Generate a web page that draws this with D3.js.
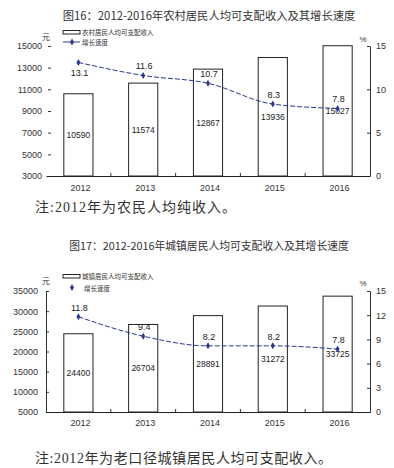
<!DOCTYPE html>
<html>
<head>
<meta charset="utf-8">
<script src="https://cdn.jsdelivr.net/npm/d3@7"></script>
<style>
  body { margin: 0; background: #fff; }
  svg { display: block; }
  text { font-family: "Liberation Sans", "Noto Sans CJK SC", sans-serif; }
  .cjk { font-family: "Noto Sans CJK SC", sans-serif; }
  .note { font-family: "Liberation Serif", "Noto Sans CJK SC", serif; }
</style>
</head>
<body>
<svg id="chart" width="394" height="468"></svg>
<script>
const years = ["2012", "2013", "2014", "2015", "2016"];

const ruralIncome = [10590, 11574, 12867, 13936, 15027];
const ruralGrowth = [13.1, 11.6, 10.7, 8.3, 7.8];
const ruralLeftTicks = [3000, 5000, 7000, 9000, 11000, 13000, 15000];
const ruralRightTicks = [0, 5, 10, 15];

const urbanIncome = [24400, 26704, 28891, 31272, 33725];
const urbanGrowth = [11.8, 9.4, 8.2, 8.2, 7.8];
const urbanLeftTicks = [5000, 10000, 15000, 20000, 25000, 30000, 35000];
const urbanRightTicks = [0, 3, 6, 9, 12, 15];

const lineColor = "#2c3a8e";

const svg = d3.select("#chart");
svg.append("rect").attr("width", 394).attr("height", 468).attr("fill", "#fff");

function drawPanel(p) {
  const g = svg.append("g");

  const x = d3.scaleBand().domain(years).range([46, 370]).padding(0);
  const yL = d3.scaleLinear().domain(p.leftDomain).range([p.bottom, p.top]);
  const yR = d3.scaleLinear().domain([0, 15]).range([p.bottom, p.top]);
  const barW = x.bandwidth() * 0.45;

  // title
  g.append("text")
    .attr("class", "cjk")
    .attr("x", 209).attr("y", p.titleY)
    .attr("text-anchor", "middle")
    .attr("dominant-baseline", "central")
    .attr("font-size", p.titleSize)
    .attr("fill", "#333")
    .text(p.title);

  // bars
  g.selectAll(".bar")
    .data(p.income)
    .enter()
    .append("rect")
    .attr("class", "bar")
    .attr("x", (d, i) => x(years[i]) + x.bandwidth() / 2 - barW / 2)
    .attr("y", d => yL(d))
    .attr("width", barW)
    .attr("height", d => p.bottom - yL(d))
    .attr("fill", "#fff")
    .attr("stroke", "#222")
    .attr("stroke-width", 1);

  // bar values
  g.selectAll(".bar-label")
    .data(p.income)
    .enter()
    .append("text")
    .attr("x", (d, i) => x(years[i]) + x.bandwidth() / 2)
    .attr("y", d => (yL(d) + p.bottom) / 2)
    .attr("text-anchor", "middle")
    .attr("dominant-baseline", "central")
    .attr("font-size", 8.5)
    .attr("fill", "#222")
    .text(d => d);

  // left axis
  const left = g.append("g")
    .attr("transform", `translate(${p.leftAxisX},0)`)
    .call(d3.axisLeft(yL).tickValues(p.leftTicks).tickFormat(d3.format("d"))
      .tickSize(-3).tickSizeOuter(0).tickPadding(p.leftPad));
  if (!p.leftLine) left.select(".domain").remove();
  left.selectAll("text").attr("font-size", 9).attr("fill", "#333");
  left.selectAll("line, .domain").attr("stroke", "#333");

  // right axis
  const right = g.append("g")
    .attr("transform", "translate(370,0)")
    .call(d3.axisRight(yR).tickValues(p.rightTicks).tickSize(-3).tickSizeOuter(0).tickPadding(6));
  right.selectAll("text").attr("font-size", 9).attr("fill", "#333");
  right.selectAll("line, .domain").attr("stroke", "#333");

  // bottom axis
  const bottom = g.append("g")
    .attr("transform", `translate(2,${p.bottom})`)
    .call(d3.axisBottom(x).tickSize(0).tickSizeOuter(0).tickPadding(p.xPad));
  bottom.select(".domain").attr("transform", "translate(-2,0)").attr("stroke", "#222");
  bottom.selectAll("text").attr("font-size", 9).attr("fill", "#333");

  g.selectAll(".xtick")
    .data(years.slice(1))
    .enter()
    .append("line")
    .attr("x1", d => x(d)).attr("x2", d => x(d))
    .attr("y1", p.bottom).attr("y2", p.bottom - 3)
    .attr("stroke", "#333");

  // growth line
  const pts = p.growth.map((v, i) => [x(years[i]) + x.bandwidth() / 2, yR(v)]);
  g.append("path")
    .attr("d", d3.line().curve(d3.curveMonotoneX)(pts))
    .attr("fill", "none")
    .attr("stroke", lineColor)
    .attr("stroke-width", 1)
    .attr("stroke-dasharray", "5,2");

  g.selectAll(".marker")
    .data(pts)
    .enter()
    .append("path")
    .attr("d", d3.symbol().type(d3.symbolDiamond).size(14))
    .attr("transform", d => `translate(${d[0]},${d[1]})`)
    .attr("fill", lineColor);

  g.selectAll(".growth-label")
    .data(p.growth)
    .enter()
    .append("text")
    .attr("x", (d, i) => pts[i][0] + 1)
    .attr("y", (d, i) => pts[i][1] + (p.labelBelow.includes(i) ? 11 : -9))
    .attr("text-anchor", "middle")
    .attr("dominant-baseline", "central")
    .attr("font-size", 9)
    .attr("fill", "#222")
    .text(d => d.toFixed(1));

  // unit labels
  g.append("text").attr("class", "cjk")
    .attr("x", 46).attr("y", p.unitY)
    .attr("text-anchor", "middle").attr("dominant-baseline", "central")
    .attr("font-size", 8).attr("fill", "#333").text("元");
  g.append("text")
    .attr("x", 363).attr("y", p.unitY + 3)
    .attr("text-anchor", "middle").attr("dominant-baseline", "central")
    .attr("font-size", 8).attr("fill", "#333").text("%");

  // legend
  g.append("rect")
    .attr("x", 63).attr("y", p.legendY - 1.5)
    .attr("width", 17).attr("height", 3.5)
    .attr("fill", "#fff").attr("stroke", "#222");
  g.append("text").attr("class", "cjk")
    .attr("x", 82).attr("y", p.legendY)
    .attr("dominant-baseline", "central")
    .attr("font-size", 6.5).attr("fill", "#333")
    .text(p.legendBar);
  const ly = p.legendY + p.legendGap;
  if (p.legendLine) {
    g.append("line")
      .attr("x1", 63).attr("x2", 80).attr("y1", ly).attr("y2", ly)
      .attr("stroke", lineColor);
  }
  g.append("path")
    .attr("d", d3.symbol().type(d3.symbolDiamond).size(14))
    .attr("transform", `translate(72,${ly})`)
    .attr("fill", lineColor);
  g.append("text").attr("class", "cjk")
    .attr("x", p.legendLine ? 82 : 84).attr("y", ly)
    .attr("dominant-baseline", "central")
    .attr("font-size", 6.5).attr("fill", "#333")
    .text("增长速度");

  // note
  g.append("text").attr("class", "note")
    .attr("x", 35).attr("y", p.noteY)
    .attr("dominant-baseline", "central")
    .attr("font-size", 14).attr("fill", "#333")
    .attr("letter-spacing", p.noteSpacing)
    .text(p.note);
}

drawPanel({
  title: "图16：2012-2016年农村居民人均可支配收入及其增长速度",
  titleY: 15, titleSize: 11.3,
  income: ruralIncome, growth: ruralGrowth,
  leftDomain: [3000, 15000], leftTicks: ruralLeftTicks, rightTicks: ruralRightTicks,
  top: 46, bottom: 176,
  leftAxisX: 48, leftPad: 6, leftLine: false,
  xPad: 9, labelBelow: [0],
  unitY: 36, legendY: 32, legendGap: 10, legendLine: true,
  legendBar: "农村居民人均可支配收入",
  noteY: 207, noteSpacing: 1.0,
  note: "注:2012年为农民人均纯收入。"
});

drawPanel({
  title: "图17：2012-2016年城镇居民人均可支配收入及其增长速度",
  titleY: 245, titleSize: 10.8,
  income: urbanIncome, growth: urbanGrowth,
  leftDomain: [5000, 35000], leftTicks: urbanLeftTicks, rightTicks: urbanRightTicks,
  top: 291, bottom: 412,
  leftAxisX: 46, leftPad: 8, leftLine: true,
  xPad: 8, labelBelow: [],
  unitY: 280, legendY: 276, legendGap: 11.5, legendLine: false,
  legendBar: "城镇居民人均可支配收入",
  noteY: 458, noteSpacing: 0.6,
  note: "注:2012年为老口径城镇居民人均可支配收入。"
});
</script>
</body>
</html>
